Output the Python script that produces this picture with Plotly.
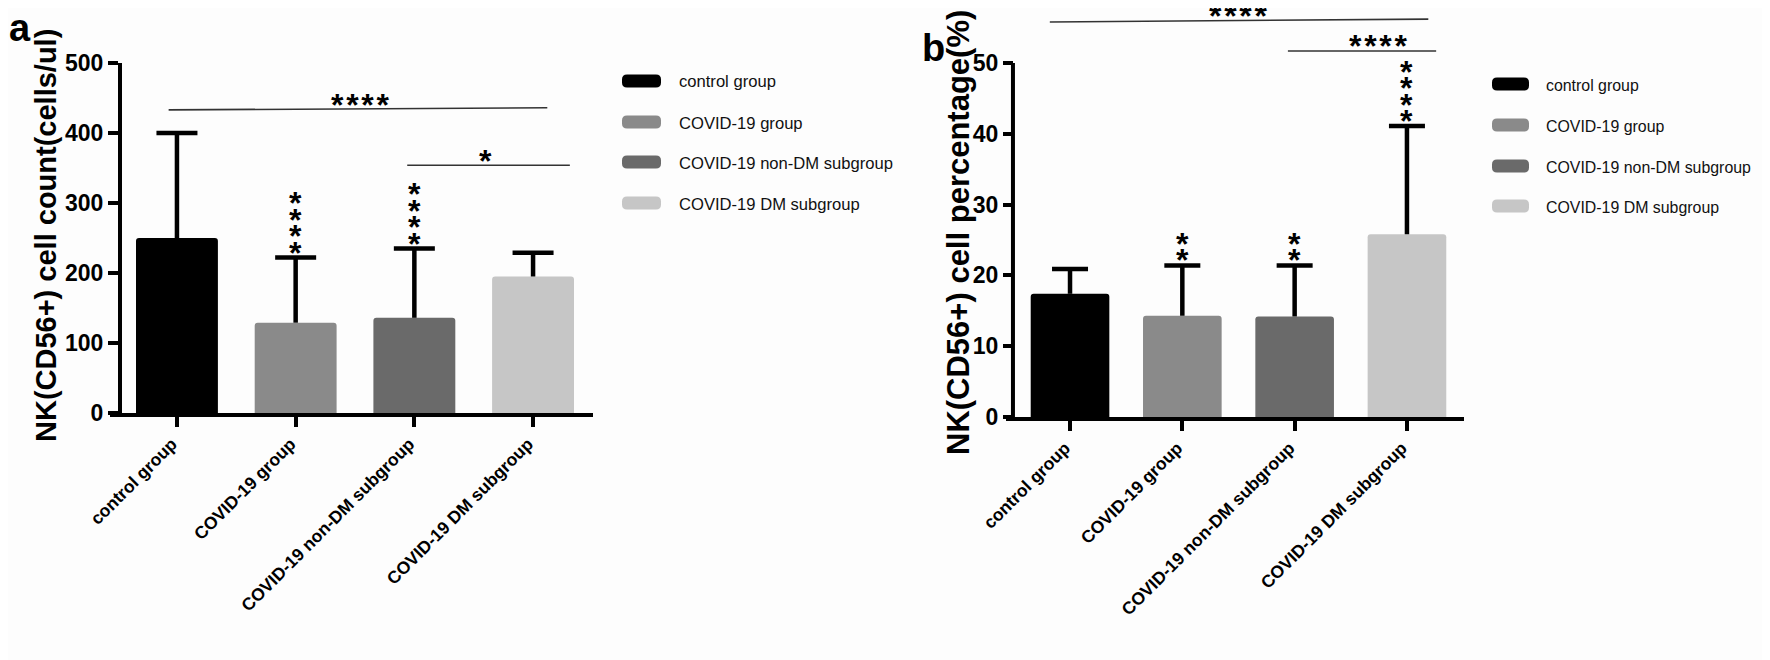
import plotly.graph_objects as go

# ---------------- data ----------------
categories = ["control group", "COVID-19 group", "COVID-19 non-DM subgroup", "COVID-19 DM subgroup"]
colors = ["#000000", "#8a8a8a", "#6a6a6a", "#c6c6c6"]

count_mean = [250, 129, 136, 195]
count_sd = [150, 93, 99, 34]
count_stars = [0, 4, 4, 0]          # stacked asterisks above error bars

pct_mean = [17.4, 14.3, 14.2, 25.8]
pct_sd = [3.5, 7.1, 7.2, 15.3]
pct_stars = [0, 2, 2, 4]

# comparison brackets: x_start, x_end, y_start, y_end, label, label_x, label_y
count_brackets = [(-0.07, 3.12, 433, 436, "****", 1.54, 444),
                  (1.94, 3.31, 354, 354, "*", 2.60, 365)]
pct_brackets = [(-0.18, 3.19, 55.8, 56.2, "****", 1.50, 57.0),
                (1.94, 3.26, 51.7, 51.7, "****", 2.74, 52.8)]

# ---------------- layout helpers ----------------
W, H = 1770, 660
OFF = 8   # page body margin of the html page


def fx(px):
    return (px - OFF) / W


def fy(py):
    return 1 - (py - OFF) / H


SANS = "Liberation Sans, Arial, Helvetica"
STAR_SIZE = 32
STAR_SHIFT = -3


def stars(n):
    return "\u200a".join(["*"] * n)


fig = go.Figure()

panels = [
    ("x", "y", count_mean, count_sd, 0.69, 41),
    ("x2", "y2", pct_mean, pct_sd, 0.70, 36),
]
for (xr, yr, means, sds, bw, capw) in panels:
    fig.add_trace(go.Bar(
        x=categories, y=means, marker=dict(color=colors, line=dict(width=0), cornerradius=3),
        width=bw, xaxis=xr, yaxis=yr, showlegend=False,
        error_y=dict(type="data", symmetric=False, array=sds, arrayminus=[0] * 4,
                     color="black", thickness=4.5, width=0),
    ))
    # caps of the SD bars
    fig.add_trace(go.Scatter(
        x=categories, y=[m + s for m, s in zip(means, sds)], mode="markers",
        xaxis=xr, yaxis=yr, showlegend=False, hoverinfo="skip",
        marker=dict(symbol="line-ew", size=capw / 1.4, color="black",
                    line=dict(color="black", width=4.5)),
    ))

axis_common = dict(showgrid=False, zeroline=False, ticks="outside", ticklen=10,
                   tickwidth=3.5, tickcolor="black", linecolor="black", linewidth=4,
                   automargin=False)

B_TOP = 57.7

fig.update_layout(
    width=W, height=H, autosize=False,
    margin=dict(l=0, r=0, t=0, b=0, pad=0),
    paper_bgcolor="#fdfdfd", plot_bgcolor="rgba(0,0,0,0)",
    xaxis=dict(domain=[fx(110), fx(593)], range=[-0.564, 3.505], type="category",
               anchor="y", showline=True, tickangle=-45, ticklabelshift=-5,
               tickfont=dict(family=SANS, size=17.5, color="black", weight="bold"),
               **axis_common),
    yaxis=dict(domain=[fy(413), fy(63)], range=[0, 500], anchor="free", position=fx(120),
               showline=True, tickvals=[0, 100, 200, 300, 400, 500],
               tickfont=dict(family=SANS, size=23, color="black", weight="bold"),
               **axis_common),
    xaxis2=dict(domain=[fx(1006), fx(1464)], range=[-0.57, 3.508], type="category",
                anchor="y2", showline=True, tickangle=-45, ticklabelshift=-5,
                tickfont=dict(family=SANS, size=17.5, color="black", weight="bold"),
                **axis_common),
    yaxis2=dict(domain=[fy(417), fy(417 - B_TOP * 7.08)], range=[0, B_TOP], anchor="free",
                position=fx(1013), showline=False, tickvals=[0, 10, 20, 30, 40, 50],
                tickfont=dict(family=SANS, size=23, color="black", weight="bold"),
                **axis_common),
)

shapes = []
annotations = []

# y axis line of panel b (stops at 50)
shapes.append(dict(type="line", xref="x2", yref="y2", x0=-0.508, x1=-0.508, y0=0, y1=50,
                   line=dict(color="black", width=4)))

# brackets
for (xr, yr, brs) in [("x", "y", count_brackets), ("x2", "y2", pct_brackets)]:
    for (x0, x1, y0, y1, lab, lx, ly) in brs:
        shapes.append(dict(type="line", xref=xr, yref=yr, x0=x0, x1=x1, y0=y0, y1=y1,
                           line=dict(color="#333333", width=1.6)))
        annotations.append(dict(xref=xr, yref=yr, x=lx, y=ly, text=stars(len(lab)),
                                showarrow=False, yanchor="middle", yshift=STAR_SHIFT,
                                font=dict(family=SANS, size=STAR_SIZE, color="black", weight="bold")))

# stacked asterisks above error bars
for (xr, yr, means, sds, st) in [("x", "y", count_mean, count_sd, count_stars),
                                 ("x2", "y2", pct_mean, pct_sd, pct_stars)]:
    for i, n in enumerate(st):
        for k in range(n):
            annotations.append(dict(xref=xr, yref=yr, x=i, y=means[i] + sds[i], text="*",
                                    showarrow=False, yanchor="middle",
                                    yshift=8 + 16.5 * k + STAR_SHIFT,
                                    font=dict(family=SANS, size=STAR_SIZE, color="black",
                                              weight="bold")))

# axis titles
annotations.append(dict(xref="paper", yref="paper", x=fx(46), y=fy(236),
                        text="NK(CD56+) cell count(cells/ul)", textangle=-90, showarrow=False,
                        xanchor="center", yanchor="middle",
                        font=dict(family=SANS, size=29, color="black", weight="bold")))
annotations.append(dict(xref="paper", yref="paper", x=fx(959), y=fy(232),
                        text="NK(CD56+) cell percentage(%)", textangle=-90, showarrow=False,
                        xanchor="center", yanchor="middle",
                        font=dict(family=SANS, size=31, color="black", weight="bold")))

# panel letters
annotations.append(dict(xref="paper", yref="paper", x=fx(20), y=fy(28), text="a",
                        showarrow=False, xanchor="center", yanchor="middle",
                        font=dict(family=SANS, size=38, color="black", weight="bold")))
annotations.append(dict(xref="paper", yref="paper", x=fx(933), y=fy(48), text="b",
                        showarrow=False, xanchor="center", yanchor="middle",
                        font=dict(family=SANS, size=38, color="black", weight="bold")))


# custom legends (rounded swatches)
def rounded_rect(x0, y0, x1, y1, r):
    def P(x, y):
        return f"{fx(x):.6f},{fy(y):.6f}"
    return (f"M {P(x0 + r, y0)} L {P(x1 - r, y0)} Q {P(x1, y0)} {P(x1, y0 + r)} "
            f"L {P(x1, y1 - r)} Q {P(x1, y1)} {P(x1 - r, y1)} L {P(x0 + r, y1)} "
            f"Q {P(x0, y1)} {P(x0, y1 - r)} L {P(x0, y0 + r)} Q {P(x0, y0)} {P(x0 + r, y0)} Z")


legend_specs = [(622, 661, 677, [81, 122, 162, 203], 16.6),
                (1492, 1529, 1544, [84, 125, 166, 206], 15.9)]
for (sx0, sx1, tx, rows, fs) in legend_specs:
    for cat, col, yc in zip(categories, colors, rows):
        shapes.append(dict(type="path", xref="paper", yref="paper",
                           path=rounded_rect(sx0, yc - 6.5, sx1, yc + 6.5, 5),
                           fillcolor=col, line=dict(width=0)))
        annotations.append(dict(xref="paper", yref="paper", x=fx(tx), y=fy(yc + 1), text=cat,
                                showarrow=False, xanchor="left", yanchor="middle",
                                font=dict(family=SANS, size=fs, color="#111111")))

fig.update_layout(shapes=shapes, annotations=annotations)
fig.write_html("out.html")
